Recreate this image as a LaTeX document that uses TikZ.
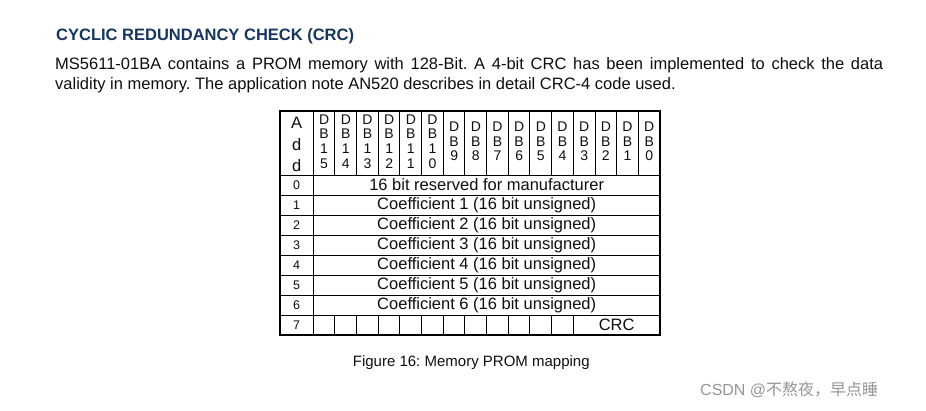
\documentclass[tikz,border=0pt]{standalone}
\usepackage{fontspec}
\setmainfont{Liberation Sans}
\newfontfamily\cjk{Noto Sans CJK SC}
\frenchspacing
\definecolor{headblue}{RGB}{23,54,93}
\definecolor{wmgray}{RGB}{150,150,150}
\definecolor{txt}{RGB}{15,15,15}
\tikzset{
  txtnode/.style={inner sep=0pt, text=txt},
  bodyfont/.style={font=\fontsize{16.5}{20}\selectfont},
  dbfont/.style={font=\fontsize{14}{15}\selectfont},
  rowfont/.style={font=\fontsize{12.5}{14}\selectfont},
  outerline/.style={line width=1.5pt},
  innerline/.style={line width=1pt}
}
\begin{document}
\begin{tikzpicture}[x=1pt,y=-1pt]
\useasboundingbox (0,0) rectangle (926,410);
\fill[white] (0,0) rectangle (926,410);
% heading and paragraph
\node[txtnode, anchor=base west, text=headblue, font=\bfseries\fontsize{16.5}{20}\selectfont] (title) at (56,40) {CYCLIC REDUNDANCY CHECK (CRC)};
\node[txtnode, anchor=base west, bodyfont] (line1) at (55,69) {\makebox[828pt][s]{MS5611-01BA contains a PROM memory with 128-Bit. A 4-bit CRC has been implemented to check the data}};
\node[txtnode, anchor=base west, bodyfont] (line2) at (55,89) {validity in memory. The application note AN520 describes in detail CRC-4 code used.};
% table geometry
\def\xL{280}\def\xA{313.3}\def\xR{660}\def\w{21.669}
\def\yT{111}\def\yH{175}\def\yB{335}
% inner lines
\foreach \k in {1,...,7} {
  \draw[innerline] (\xL,{\yH+20*\k}) -- (\xR,{\yH+20*\k});
}
\draw[innerline] (\xL,\yH) -- (\xR,\yH);
\draw[innerline] (\xA,\yT) -- (\xA,\yB);
\foreach \i in {1,...,15} {
  \draw[innerline] ({\xA+\i*\w},\yT) -- ({\xA+\i*\w},\yH);
}
\foreach \i in {1,...,12} {
  \draw[innerline] ({\xA+\i*\w},315) -- ({\xA+\i*\w},\yB);
}
\draw[outerline] (\xL,\yT) rectangle (\xR,\yB);
% header: Add
\node[txtnode, anchor=base, font=\fontsize{16.5}{18}\selectfont] (hA) at (296.7,128.5) {A};
\node[txtnode, anchor=base, font=\fontsize{16.5}{18}\selectfont] (hd1) at (296.7,150) {d};
\node[txtnode, anchor=base, font=\fontsize{16.5}{18}\selectfont] (hd2) at (296.7,171.5) {d};
% header: DB15..DB10
\foreach \i/\a/\b in {0/1/5,1/1/4,2/1/3,3/1/2,4/1/1,5/1/0} {
  \node[txtnode, anchor=base, dbfont] (dbD\i) at ({\xA+(\i+0.5)*\w},124) {D};
  \node[txtnode, anchor=base, dbfont] (dbB\i) at ({\xA+(\i+0.5)*\w},138.7) {B};
  \node[txtnode, anchor=base, dbfont] (dbX\i) at ({\xA+(\i+0.5)*\w},153.3) {\a};
  \node[txtnode, anchor=base, dbfont] (dbY\i) at ({\xA+(\i+0.5)*\w},168) {\b};
}
% header: DB9..DB0
\foreach \i/\n in {6/9,7/8,8/7,9/6,10/5,11/4,12/3,13/2,14/1,15/0} {
  \node[txtnode, anchor=base, dbfont] (dbD\i) at ({\xA+(\i+0.5)*\w},131.3) {D};
  \node[txtnode, anchor=base, dbfont] (dbB\i) at ({\xA+(\i+0.5)*\w},146) {B};
  \node[txtnode, anchor=base, dbfont] (dbN\i) at ({\xA+(\i+0.5)*\w},160.7) {\n};
}
% row labels
\foreach \k in {0,...,7} {
  \node[txtnode, rowfont] (r\k) at (296.7,{185+20*\k}) {\k};
}
% row contents
\node[txtnode, bodyfont] (c0) at (486.7,185) {16 bit reserved for manufacturer};
\foreach \k in {1,...,6} {
  \node[txtnode, bodyfont] (c\k) at (486.7,{185+20*\k}) {Coefficient \k\ (16 bit unsigned)};
}
\node[txtnode, bodyfont] (crc) at (616.7,325) {CRC};
% caption
\node[txtnode, anchor=base west, font=\fontsize{15}{18}\selectfont] (cap) at (352.7,366) {Figure 16: Memory PROM mapping};
% watermark
\node[inner sep=0pt, anchor=base west, text=wmgray, font=\fontsize{16}{18}\selectfont] (wm) at (700,395) {CSDN @{\cjk 不熬夜，早点睡}};
\end{tikzpicture}
\end{document}
